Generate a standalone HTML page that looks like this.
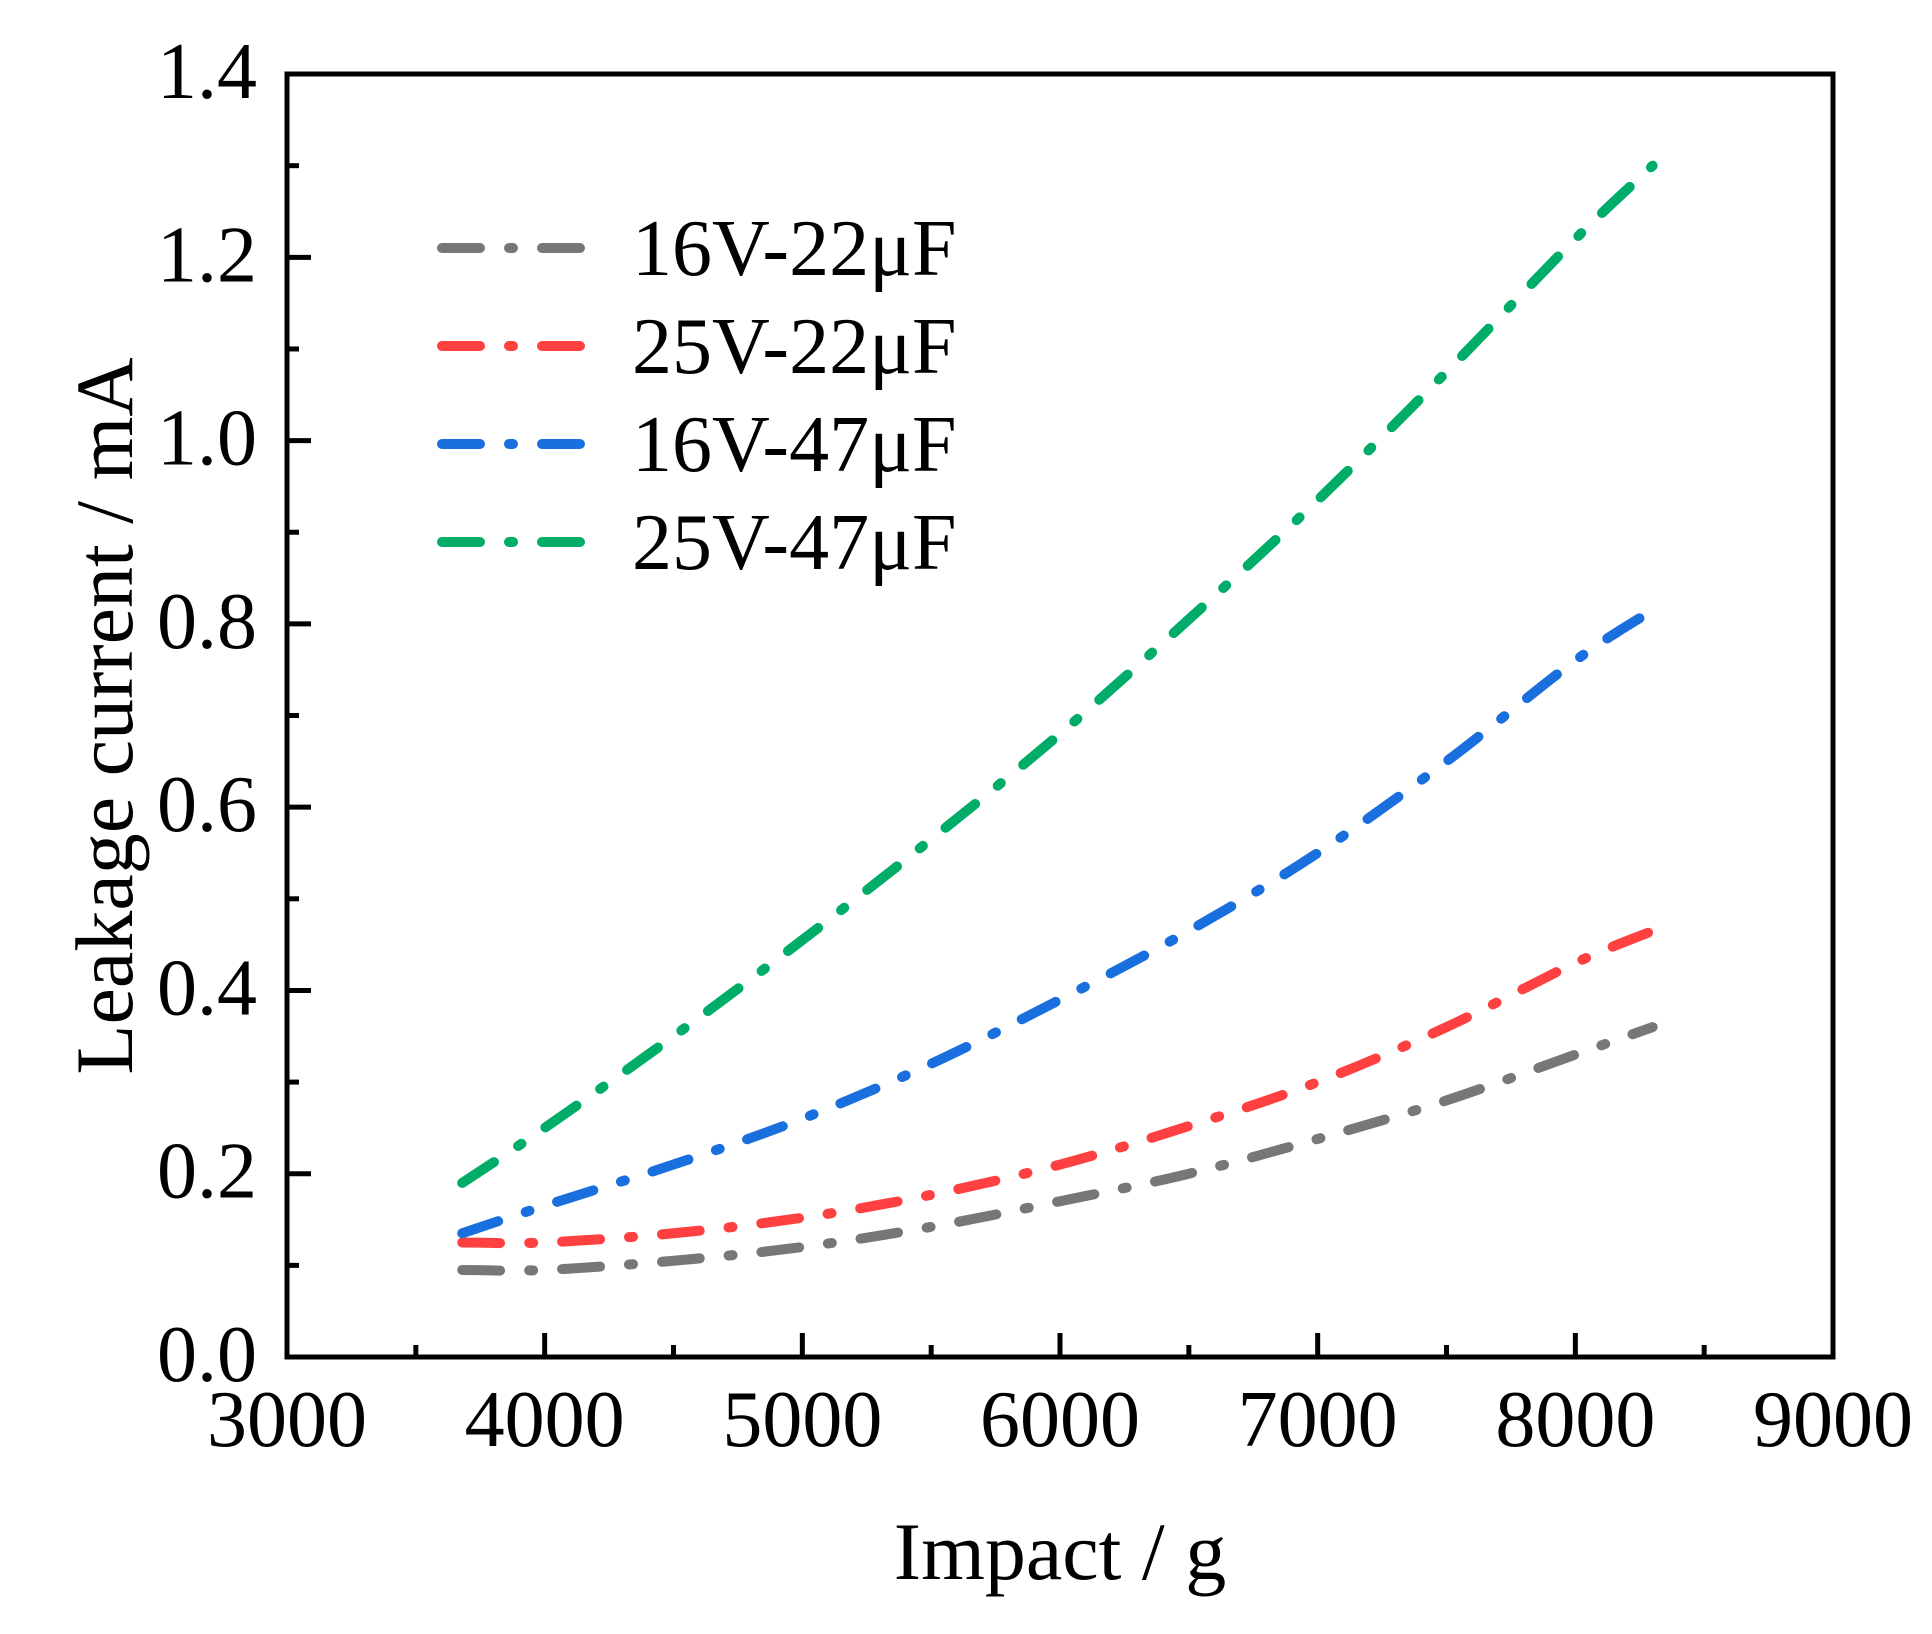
<!DOCTYPE html>
<html><head><meta charset="utf-8"><style>
html,body{margin:0;padding:0;background:#fff;width:1932px;height:1634px;overflow:hidden}
text{font-family:"Liberation Serif",serif;fill:#000}
</style></head><body>
<svg id="s" width="1932" height="1634" viewBox="0 0 1932 1634" xmlns="http://www.w3.org/2000/svg">
<rect width="1932" height="1634" fill="#fff"/>
<g id="curves" fill="none" stroke-width="10" stroke-linecap="round" stroke-dasharray="38 29 4 29"></g>
<rect x="287" y="74" width="1546" height="1283" fill="none" stroke="#000" stroke-width="5"/>
<g id="ticks" stroke="#000" stroke-width="5"></g>
<g id="labels" font-size="80"></g>
<text x="1060" y="1579" font-size="82" text-anchor="middle">Impact / g</text>
<text transform="translate(132,716) rotate(-90)" font-size="82" text-anchor="middle">Leakage current / mA</text>
<g id="legend" font-size="80"></g>
</svg>
<script>
var NS="http://www.w3.org/2000/svg";
function X(v){return 287+(v-3000)*0.25767;}
function Y(v){return 1357-v*916.4;}
function el(t,a,p,txt){var e=document.createElementNS(NS,t);for(var k in a)e.setAttribute(k,a[k]);if(txt)e.textContent=txt;p.appendChild(e);return e;}
var tk=document.getElementById('ticks'),lb=document.getElementById('labels');
for(var v=3000;v<=9000;v+=500){var x=X(v);var maj=v%1000==0;
 if(v>3000&&v<9000)el('line',{x1:x,y1:1357,x2:x,y2:maj?1333:1345},tk);
 if(maj)el('text',{x:x,y:1446,'text-anchor':'middle'},lb,String(v));}
for(var i=0;i<=14;i++){var y=Y(i/10);var maj=i%2==0;
 if(i>0&&i<14)el('line',{x1:287,y1:y,x2:maj?311:299,y2:y},tk);
 if(maj)el('text',{x:257,y:y+24,'text-anchor':'end'},lb,(i/10).toFixed(1));}
var xs=[3680,4000,4500,5000,5500,6000,6500,7000,7500,8000,8300];
var series=[
 ["#777777",[0.095,0.095,0.105,0.12,0.142,0.17,0.2,0.238,0.28,0.33,0.36]],
 ["#ff4040",[0.125,0.125,0.135,0.152,0.177,0.21,0.252,0.30,0.36,0.43,0.465]],
 ["#1a6fdf",[0.135,0.165,0.21,0.26,0.32,0.39,0.465,0.55,0.65,0.76,0.815]],
 ["#00ad68",[0.19,0.25,0.35,0.455,0.565,0.68,0.805,0.935,1.075,1.22,1.30]]];
var cg=document.getElementById('curves');
series.forEach(function(s){
 var p=xs.map(function(x,i){return [X(x),Y(s[1][i])];});
 var d="M"+p[0][0]+","+p[0][1];
 for(var i=0;i<p.length-1;i++){
  var p0=p[Math.max(0,i-1)],p1=p[i],p2=p[i+1],p3=p[Math.min(p.length-1,i+2)];
  var c1=[p1[0]+(p2[0]-p0[0])/6,p1[1]+(p2[1]-p0[1])/6],c2=[p2[0]-(p3[0]-p1[0])/6,p2[1]-(p3[1]-p1[1])/6];
  d+=" C"+c1+" "+c2+" "+p2;}
 el('path',{d:d,stroke:s[0]},cg);
});
var lg=document.getElementById('legend');
var names=["16V-22μF","25V-22μF","16V-47μF","25V-47μF"];
names.forEach(function(n,i){var y=248+i*98;
 el('line',{x1:442,y1:y,x2:581,y2:y,stroke:series[i][0],'stroke-width':10,'stroke-linecap':'round','stroke-dasharray':'38 29 4 29'},lg);
 el('text',{x:632,y:y+27},lg,n);});
</script>
</body></html>
